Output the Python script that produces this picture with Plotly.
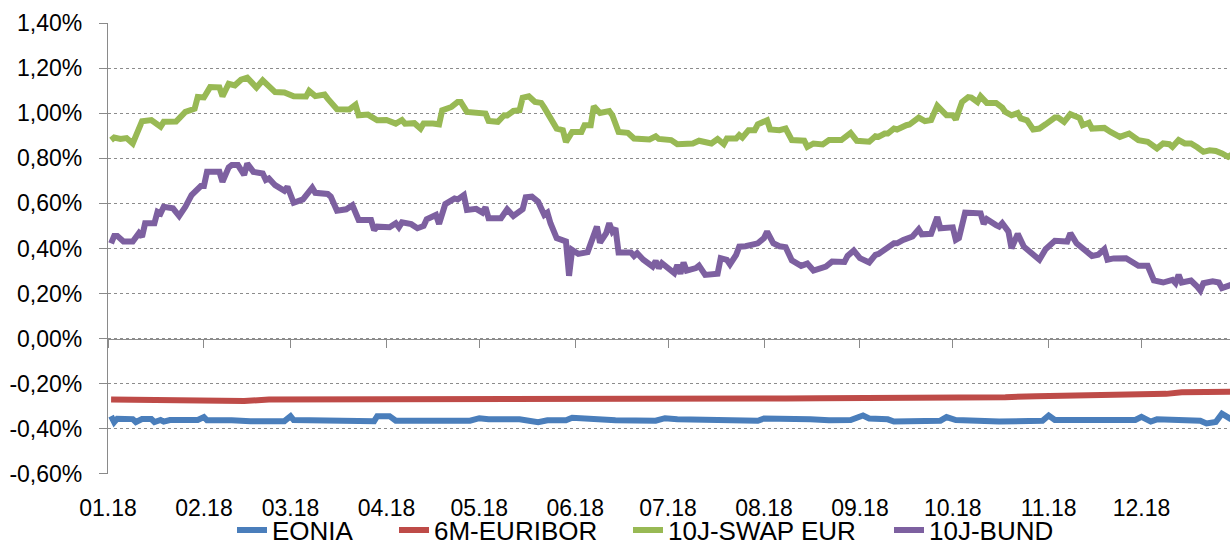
import pandas as pd
import plotly.graph_objects as go

# Interest rates 2018, in percent. Days are counted from 1 January 2018.
EONIA_DAY = [1, 2, 3, 8, 9, 11, 14, 15, 17, 18, 20, 29, 31, 32, 40, 46, 57, 59, 60, 73,
             86, 87, 91, 93, 105, 117, 120, 123, 133, 139, 142, 148, 150, 154, 160, 164,
             177, 180, 184, 192, 199, 210, 212, 217, 227, 233, 240, 244, 246, 252, 254,
             269, 271, 274, 288, 302, 304, 306, 315, 318, 332, 334, 337, 339, 353, 355,
             358, 360, 362, 363]
EONIA = [-0.344, -0.371, -0.355, -0.357, -0.370, -0.357, -0.357, -0.370, -0.361, -0.368,
         -0.361, -0.361, -0.348, -0.362, -0.362, -0.366, -0.366, -0.344, -0.361, -0.366,
         -0.366, -0.344, -0.344, -0.364, -0.363, -0.364, -0.353, -0.358, -0.358, -0.371,
         -0.362, -0.362, -0.351, -0.355, -0.355, -0.362, -0.364, -0.353, -0.358, -0.361,
         -0.364, -0.364, -0.354, -0.354, -0.358, -0.362, -0.361, -0.341, -0.354, -0.358,
         -0.368, -0.364, -0.348, -0.361, -0.368, -0.364, -0.341, -0.361, -0.361, -0.366,
         -0.361, -0.347, -0.368, -0.358, -0.364, -0.376, -0.370, -0.333, -0.355, -0.358]

EURIBOR_DAY = [1, 13, 18, 30, 44, 52, 70, 100, 117, 128, 133, 147, 152, 200, 219, 230,
               260, 275, 290, 300, 326, 333, 342, 347, 355, 363]
EURIBOR = [-0.270, -0.271, -0.276, -0.278, -0.277, -0.270, -0.270, -0.269, -0.268,
           -0.268, -0.271, -0.271, -0.267, -0.266, -0.265, -0.264, -0.265, -0.264,
           -0.260, -0.255, -0.252, -0.248, -0.245, -0.238, -0.236, -0.235]

SWAP_DAY = [1, 2, 4, 6, 8, 9, 11, 14, 17, 18, 22, 25, 28, 29, 31, 33, 36, 37, 39, 41,
            43, 45, 48, 50, 52, 54, 57, 60, 64, 65, 67, 70, 71, 74, 78, 80, 81, 84, 87,
            90, 93, 95, 96, 99, 101, 102, 105, 107, 108, 111, 113, 114, 116, 120, 122,
            123, 126, 128, 129, 131, 133, 134, 136, 138, 140, 141, 143, 145, 147, 148,
            150, 153, 154, 156, 157, 159, 162, 163, 165, 168, 170, 172, 175, 177, 178,
            182, 184, 189, 191, 195, 197, 199, 200, 203, 204, 205, 207, 209, 210, 213,
            214, 217, 219, 221, 225, 226, 228, 231, 233, 237, 239, 240, 242, 246, 248,
            249, 251, 252, 254, 255, 258, 259, 262, 264, 266, 268, 271, 273, 274, 276,
            278, 279, 281, 282, 284, 287, 289, 290, 292, 294, 295, 297, 299, 301, 303,
            306, 307, 309, 311, 314, 315, 317, 318, 322, 324, 327, 330, 333, 336, 338,
            339, 341, 343, 344, 346, 348, 350, 352, 354, 356, 358, 360, 362, 363]
SWAP = [0.881, 0.892, 0.886, 0.890, 0.866, 0.903, 0.965, 0.970, 0.940, 0.962, 0.963,
        1.006, 1.020, 1.072, 1.070, 1.116, 1.115, 1.075, 1.131, 1.124, 1.149, 1.158,
        1.114, 1.146, 1.124, 1.094, 1.092, 1.075, 1.074, 1.099, 1.076, 1.083, 1.065,
        1.018, 1.017, 1.038, 0.991, 0.994, 0.969, 0.970, 0.954, 0.970, 0.954, 0.956,
        0.932, 0.955, 0.955, 0.951, 1.013, 1.028, 1.050, 1.050, 1.006, 1.000, 0.999,
        0.966, 0.962, 0.991, 0.990, 1.010, 1.013, 1.069, 1.075, 1.050, 1.046, 1.025,
        0.977, 0.932, 0.925, 0.873, 0.917, 0.917, 0.947, 0.947, 1.031, 1.001, 1.010,
        0.991, 0.917, 0.913, 0.888, 0.888, 0.884, 0.898, 0.886, 0.881, 0.863, 0.866,
        0.878, 0.866, 0.886, 0.863, 0.888, 0.888, 0.903, 0.892, 0.925, 0.925, 0.951,
        0.969, 0.928, 0.925, 0.932, 0.881, 0.878, 0.851, 0.866, 0.862, 0.881, 0.881,
        0.898, 0.913, 0.878, 0.874, 0.898, 0.895, 0.910, 0.910, 0.932, 0.928, 0.947,
        0.950, 0.981, 0.965, 0.970, 1.033, 0.991, 0.991, 0.972, 1.050, 1.072, 1.070,
        1.050, 1.075, 1.046, 1.046, 1.025, 1.006, 0.991, 1.001, 0.977, 0.969, 0.928,
        0.932, 0.951, 0.981, 0.981, 0.962, 0.996, 0.979, 0.947, 0.958, 0.932, 0.935,
        0.917, 0.895, 0.910, 0.881, 0.873, 0.854, 0.844, 0.866, 0.863, 0.851, 0.881,
        0.866, 0.866, 0.849, 0.829, 0.836, 0.833, 0.822, 0.807, 0.815]

BUND_DAY = [1, 2, 3, 5, 8, 10, 11, 12, 15, 16, 17, 18, 21, 23, 25, 27, 30, 31, 32, 36,
            37, 39, 40, 42, 44, 45, 47, 50, 51, 52, 54, 57, 58, 60, 63, 66, 67, 71, 72,
            74, 77, 79, 81, 85, 86, 87, 91, 93, 94, 95, 98, 100, 102, 103, 106, 107,
            109, 112, 113, 115, 116, 119, 121, 122, 123, 127, 129, 131, 134, 135, 137,
            139, 141, 142, 143, 145, 148, 149, 150, 152, 155, 156, 158, 159, 161, 162,
            163, 164, 165, 169, 170, 171, 173, 176, 177, 178, 179, 183, 184, 185, 186,
            187, 190, 191, 192, 193, 197, 198, 200, 201, 203, 204, 206, 210, 212, 213,
            215, 217, 219, 221, 224, 226, 228, 232, 234, 238, 239, 241, 243, 246, 248,
            249, 254, 255, 257, 260, 262, 263, 266, 268, 269, 273, 274, 275, 277, 282,
            283, 284, 287, 288, 289, 291, 292, 294, 296, 299, 301, 303, 306, 310, 311,
            313, 316, 318, 320, 322, 323, 325, 329, 331, 333, 336, 338, 341, 344, 345,
            346, 347, 350, 352, 353, 354, 357, 359, 360, 363]
BUND = [0.423, 0.456, 0.456, 0.431, 0.431, 0.468, 0.452, 0.512, 0.512, 0.563, 0.556,
        0.585, 0.578, 0.544, 0.585, 0.637, 0.677, 0.677, 0.740, 0.740, 0.696, 0.760,
        0.770, 0.770, 0.726, 0.777, 0.740, 0.733, 0.704, 0.711, 0.681, 0.656, 0.674,
        0.603, 0.618, 0.670, 0.647, 0.642, 0.630, 0.568, 0.574, 0.592, 0.527, 0.527,
        0.482, 0.497, 0.494, 0.512, 0.494, 0.516, 0.508, 0.490, 0.500, 0.530, 0.549,
        0.509, 0.597, 0.622, 0.618, 0.637, 0.571, 0.576, 0.559, 0.583, 0.534, 0.534,
        0.574, 0.544, 0.574, 0.627, 0.630, 0.608, 0.549, 0.559, 0.512, 0.446, 0.431,
        0.279, 0.394, 0.376, 0.384, 0.416, 0.497, 0.426, 0.468, 0.512, 0.475, 0.490,
        0.382, 0.382, 0.367, 0.379, 0.350, 0.320, 0.345, 0.313, 0.335, 0.291, 0.327,
        0.288, 0.338, 0.302, 0.313, 0.324, 0.302, 0.283, 0.288, 0.357, 0.350, 0.330,
        0.372, 0.408, 0.410, 0.423, 0.446, 0.475, 0.423, 0.410, 0.406, 0.347, 0.323,
        0.333, 0.302, 0.320, 0.342, 0.340, 0.367, 0.391, 0.357, 0.338, 0.372, 0.376,
        0.423, 0.423, 0.438, 0.453, 0.485, 0.463, 0.465, 0.540, 0.490, 0.494, 0.438,
        0.446, 0.559, 0.556, 0.509, 0.530, 0.504, 0.497, 0.512, 0.475, 0.401, 0.465,
        0.408, 0.372, 0.350, 0.397, 0.434, 0.431, 0.468, 0.423, 0.394, 0.367, 0.372,
        0.397, 0.350, 0.356, 0.357, 0.342, 0.323, 0.323, 0.258, 0.249, 0.261, 0.246,
        0.283, 0.249, 0.258, 0.231, 0.214, 0.246, 0.254, 0.249, 0.224, 0.239]

SERIES = [
    ("EONIA", EONIA_DAY, EONIA, "#4A7EBB"),
    ("6M-EURIBOR", EURIBOR_DAY, EURIBOR, "#BE4B48"),
    ("10J-SWAP EUR", SWAP_DAY, SWAP, "#98B954"),
    ("10J-BUND", BUND_DAY, BUND, "#7D60A0"),
]

Y_TICKS = [1.4, 1.2, 1.0, 0.8, 0.6, 0.4, 0.2, 0.0, -0.2, -0.4, -0.6]
Y_TICK_TEXT = [f"{v:.2f}%".replace(".", ",") for v in Y_TICKS]

START = pd.Timestamp("2018-01-01")
X_RANGE = [START, START + pd.Timedelta(days=362.6)]
MONTHS = pd.date_range("2018-01-01", "2018-12-01", freq="MS")

AXIS_GREY = "#8A8A8A"
FONT = "Liberation Sans, Arial, sans-serif"

# left edge of each legend entry along the bottom row, in pixels
LEGEND_X = [232, 394, 628, 889]

fig = go.Figure()
legend_layout = {}
for i, (name, days, vals, color) in enumerate(SERIES):
    dates = START + pd.to_timedelta(days, unit="D")
    key = "legend" if i == 0 else f"legend{i + 1}"
    fig.add_trace(go.Scatter(
        x=dates, y=vals, name=name, mode="lines",
        line=dict(color=color, width=6),
        xaxis="x2" if i == 0 else "x",
        legend=key,
    ))
    legend_layout[key] = dict(
        orientation="h", xref="container", yref="container",
        x=LEGEND_X[i] / 1230, xanchor="left", y=0.022, yanchor="middle",
        font=dict(size=26), bgcolor="rgba(0,0,0,0)", borderwidth=0,
    )

fig.update_layout(
    width=1230, height=542,
    margin=dict(l=108, r=0, t=23, b=68, autoexpand=False),
    paper_bgcolor="white", plot_bgcolor="white",
    font=dict(family=FONT, size=23, color="#000000"),
    showlegend=True,
    xaxis=dict(
        type="date", range=X_RANGE,
        tickvals=MONTHS, tickformat="%m.%y",
        showgrid=False, showline=False, zeroline=False,
        ticks="outside", ticklen=13, tickcolor="rgba(0,0,0,0)",
        tickfont=dict(size=23),
    ),
    # month ticks along the zero line
    xaxis2=dict(
        type="date", range=X_RANGE, overlaying="x", anchor="free",
        position=0.3, side="bottom",
        tickvals=MONTHS, showticklabels=False,
        showgrid=False, zeroline=False,
        showline=True, linecolor=AXIS_GREY, linewidth=1.3,
        ticks="outside", ticklen=8, tickwidth=1.3, tickcolor=AXIS_GREY,
    ),
    yaxis=dict(
        range=[-0.6005, 1.4005], tickvals=Y_TICKS, ticktext=Y_TICK_TEXT,
        showgrid=True, griddash="dot", gridcolor="#8C8C8C", gridwidth=1.3,
        zeroline=False,
        showline=True, linecolor=AXIS_GREY, linewidth=1.3,
        ticks="outside", ticklen=8, tickwidth=1.3, tickcolor=AXIS_GREY,
        ticklabelstandoff=12,
        tickfont=dict(size=23),
    ),
    **legend_layout,
)

fig.write_html("out.html")
